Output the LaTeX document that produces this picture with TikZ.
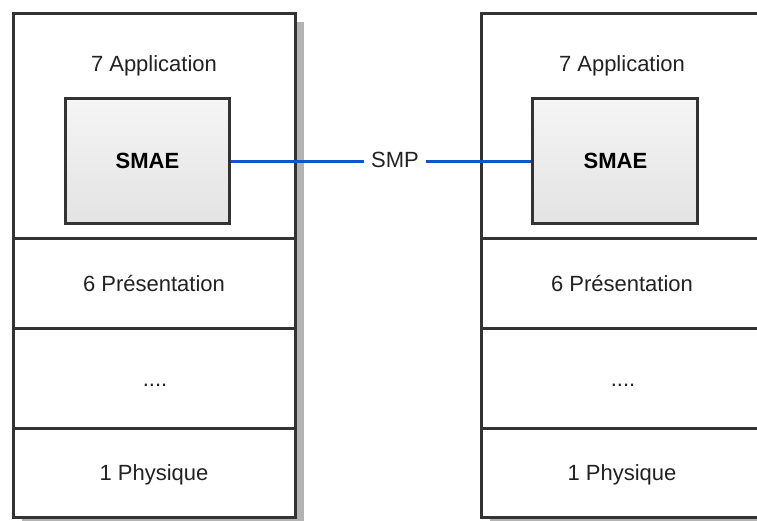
\documentclass[tikz,border=0pt]{standalone}
\usepackage{fontspec}
\setmainfont{Liberation Sans}
\definecolor{bordc}{RGB}{51,51,51}
\definecolor{txtc}{RGB}{34,34,34}
\definecolor{shadc}{RGB}{179,179,179}
\definecolor{linkc}{RGB}{17,85,204}
\begin{document}
\begin{tikzpicture}[x=1pt,y=-1pt,
  layer/.style={draw=bordc,line width=3pt,fill=white,minimum width=282pt,inner sep=0pt},
  smae/.style={draw=bordc,line width=3pt,top color=gray!8,bottom color=gray!22,minimum width=164.5pt,minimum height=124.7pt,inner sep=0pt},
  smaetxt/.style={font=\fontsize{22}{26}\selectfont\bfseries,text=black,inner sep=0pt,anchor=base},
  lbl/.style={font=\fontsize{22}{26}\selectfont,text=txtc,inner sep=0pt,anchor=base},
  link/.style={draw=linkc,line width=3pt}]
\useasboundingbox (0,0) rectangle (757,520);
\clip (0,0) rectangle (757,520);
% shadows
\fill[shadc] (21.5,21.5) rectangle (304,526);
\fill[shadc] (489.5,21.5) rectangle (772,526);
% left stack
\node[layer,minimum height=225pt] (appL) at (154.5,126) {};
\node[layer,minimum height=89.5pt] (presL) at (154.5,283.25) {};
\node[layer,minimum height=100pt] (dotsL) at (154.5,378) {};
\node[layer,minimum height=89pt] (physL) at (154.5,472.5) {};
% right stack
\node[layer,minimum height=225pt] (appR) at (622.5,126) {};
\node[layer,minimum height=89.5pt] (presR) at (622.5,283.25) {};
\node[layer,minimum height=100pt] (dotsR) at (622.5,378) {};
\node[layer,minimum height=89pt] (physR) at (622.5,472.5) {};
% labels
\node[lbl] (appLt) at (154,71.7) {7 Application};
\node[lbl] (presLt) at (154,291.7) {6 Présentation};
\node[lbl] (dotsLt) at (155,386) {....};
\node[lbl] (physLt) at (154,480) {1 Physique};
\node[lbl] (appRt) at (622,71.7) {7 Application};
\node[lbl] (presRt) at (622,291.7) {6 Présentation};
\node[lbl] (dotsRt) at (623,386) {....};
\node[lbl] (physRt) at (622,480) {1 Physique};
% SMAE boxes
\node[smae] (smaeL) at (147.3,161.3) {};
\node[smae] (smaeR) at (615.2,161.3) {};
\node[smaetxt] (smaeLt) at (147.5,168.3) {SMAE};
\node[smaetxt] (smaeRt) at (615.5,168.3) {SMAE};
% link
\node[lbl,inner xsep=6.5pt] (smp) at (395,167.5) {SMP};
\draw[link] (smaeL.east) -- (smaeL.east -| smp.west);
\draw[link] (smaeR.west -| smp.east) -- (smaeR.west);
\end{tikzpicture}
\end{document}
